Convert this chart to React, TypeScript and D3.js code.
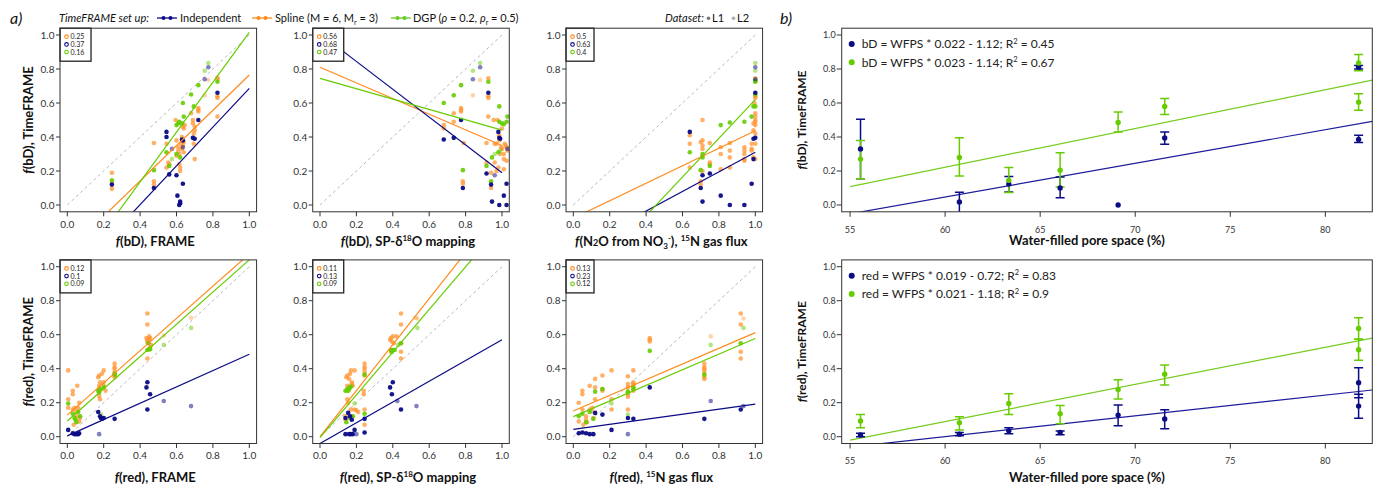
import React from 'react';
import * as d3 from 'd3';

type P = [number, number, number?];
type E = [number, number, number, number];

// ---------- colours ----------
const NAVY = '#0b0b86';
const ORANGE = '#ff8a1c';
const GREEN = '#66cc00';

// ---------- legend (top) ----------
const setupLabels = ['Independent', 'Spline (M = 6, M', 'DGP ('];

// ---------- panel a: bD rows ----------
const bdFrameSpline: P[] = [[0.245,0.19],[0.245,0.13],[0.245,0.095],[0.476,0.365],[0.476,0.14],[0.476,0.12],[0.545,0.36],[0.545,0.22],[0.555,0.25],[0.56,0.24],[0.595,0.5],[0.6,0.38],[0.6,0.29],[0.61,0.34],[0.61,0.32],[0.615,0.3],[0.615,0.24],[0.62,0.22],[0.62,0.2],[0.625,0.36],[0.63,0.4],[0.63,0.33],[0.635,0.35],[0.635,0.46],[0.64,0.31],[0.64,0.45],[0.645,0.47],[0.64,0.37],[0.68,0.54],[0.69,0.5],[0.69,0.48],[0.695,0.42],[0.695,0.36],[0.7,0.27],[0.7,0.44],[0.7,0.46],[0.72,0.57],[0.72,0.55],[0.72,0.56],[0.755,0.645,1],[0.775,0.735,1],[0.825,0.74],[0.825,0.64],[0.825,0.63],[0.825,0.52],[0.825,0.75]];
const bdFrameIndep: P[] = [[0.245,0.12],[0.476,0.1],[0.545,0.43],[0.545,0.4],[0.56,0.18],[0.575,0.33,1],[0.6,0.175],[0.605,0.055],[0.615,0.0],[0.62,0.02],[0.62,0.01],[0.63,0.385],[0.635,0.38],[0.635,0.34,1],[0.635,0.125],[0.69,0.395],[0.7,0.39],[0.72,0.5],[0.755,0.74,1],[0.775,0.81,1],[0.825,0.66]];
const bdFrameDgp: P[] = [[0.245,0.145],[0.476,0.205],[0.545,0.31],[0.56,0.23],[0.575,0.27,1],[0.6,0.3],[0.6,0.47],[0.61,0.48],[0.615,0.49],[0.62,0.28],[0.63,0.48],[0.635,0.6],[0.64,0.52],[0.68,0.65],[0.695,0.58],[0.72,0.705],[0.755,0.79,1],[0.775,0.835,1],[0.825,0.725]];

const bdSpSpline: P[] = [[0.68,0.47],[0.68,0.45],[0.735,0.54],[0.735,0.49],[0.775,0.57],[0.775,0.55],[0.775,0.56],[0.79,0.365],[0.785,0.14],[0.785,0.125],[0.84,0.645,1],[0.88,0.735,1],[0.925,0.745],[0.925,0.64],[0.925,0.63],[0.925,0.52],[0.915,0.25],[0.915,0.365],[0.94,0.1],[0.94,0.19],[0.955,0.5],[0.96,0.25],[0.96,0.36],[0.97,0.36],[0.975,0.5],[0.98,0.22],[0.985,0.41],[0.985,0.38],[0.99,0.3],[0.995,0.34],[1.0,0.45],[1.0,0.33],[1.01,0.27],[1.01,0.3],[1.015,0.36],[1.02,0.35],[1.025,0.34],[1.025,0.26],[1.03,0.32],[1.01,0.21],[0.97,0.2]];
const bdSpIndep: P[] = [[0.68,0.385],[0.735,0.395],[0.775,0.5],[0.785,0.1],[0.84,0.74,1],[0.88,0.81,1],[0.925,0.66],[0.915,0.185],[0.94,0.12],[0.945,0.02],[0.96,0.175,1],[0.98,0.43],[0.985,0.395],[0.985,0.0],[1.01,0.055],[1.025,0.125],[1.025,0.0],[1.03,0.33,1],[0.99,0.39]];
const bdSpDgp: P[] = [[0.68,0.6],[0.735,0.645],[0.775,0.705],[0.785,0.205],[0.84,0.79,1],[0.88,0.835,1],[0.925,0.725],[0.915,0.23],[0.94,0.14],[0.945,0.28],[0.96,0.3,1],[0.98,0.31],[0.985,0.58],[0.985,0.49],[1.0,0.48],[1.01,0.475],[1.025,0.49],[1.03,0.52],[0.99,0.32,1]];

const bdN15Spline: P[] = [[0.64,0.41],[0.64,0.36],[0.64,0.22],[0.7,0.37],[0.7,0.14],[0.7,0.12],[0.71,0.5],[0.71,0.38],[0.71,0.35],[0.71,0.33],[0.71,0.29],[0.71,0.2],[0.75,0.365],[0.75,0.25],[0.75,0.24],[0.81,0.34],[0.81,0.3],[0.81,0.21],[0.86,0.365],[0.86,0.32],[0.86,0.28],[0.86,0.22],[0.94,0.34],[0.94,0.32],[0.94,0.3],[0.94,0.27],[0.94,0.26],[0.98,0.36],[0.98,0.33],[0.98,0.32],[0.99,0.44],[0.99,0.28],[1.0,0.73,1],[1.0,0.745],[1.0,0.64],[1.0,0.63],[1.0,0.54],[1.0,0.52],[1.0,0.5],[1.0,0.49],[1.0,0.47],[1.0,0.42],[1.0,0.36],[1.0,0.27],[0.99,0.48],[0.995,0.6]];
const bdN15Indep: P[] = [[0.64,0.43],[0.7,0.1],[0.71,0.175],[0.71,0.02],[0.75,0.185],[0.81,0.055],[0.86,0.0],[0.94,0.0],[0.98,0.125],[0.99,0.39],[1.0,0.395],[1.0,0.66],[1.0,0.81,1],[1.0,0.74,1],[0.99,0.27]];
const bdN15Dgp: P[] = [[0.64,0.31],[0.7,0.205],[0.71,0.28],[0.71,0.3],[0.75,0.23],[0.81,0.47],[0.86,0.485],[0.94,0.49],[0.98,0.52],[0.99,0.58],[1.0,0.65],[1.0,0.725],[1.0,0.73],[1.0,0.79,1],[1.0,0.835,1],[1.0,0.58]];

// ---------- panel a: red rows ----------
const redFrameSpline: P[] = [[0.005,0.39],[0.005,0.22],[0.005,0.17],[0.03,0.27],[0.03,0.25],[0.03,0.16],[0.035,0.07],[0.04,0.17],[0.05,0.15],[0.05,0.12],[0.055,0.3],[0.06,0.17],[0.065,0.2],[0.065,0.09],[0.07,0.11],[0.17,0.35],[0.175,0.36],[0.175,0.3],[0.175,0.28],[0.175,0.24],[0.18,0.22],[0.18,0.32],[0.19,0.37],[0.2,0.39],[0.2,0.32],[0.2,0.3],[0.21,0.27],[0.26,0.43],[0.26,0.41],[0.26,0.4],[0.26,0.38],[0.26,0.36],[0.26,0.35],[0.44,0.725],[0.44,0.66],[0.435,0.58],[0.44,0.57],[0.44,0.56],[0.445,0.55],[0.44,0.46],[0.45,0.59],[0.45,0.57],[0.455,0.58],[0.46,0.54],[0.455,0.525],[0.53,0.595,1],[0.68,0.7,1]];
const redFrameIndep: P[] = [[0.005,0.04],[0.03,0.02],[0.04,0.015],[0.05,0.015],[0.06,0.015],[0.065,0.02],[0.17,0.145],[0.175,0.015,1],[0.18,0.12],[0.185,0.11],[0.19,0.105],[0.2,0.11],[0.26,0.105],[0.435,0.29],[0.44,0.32],[0.44,0.16],[0.455,0.25],[0.53,0.21,1],[0.68,0.18,1]];
const redFrameDgp: P[] = [[0.005,0.195],[0.03,0.135],[0.04,0.11],[0.045,0.1],[0.05,0.085],[0.06,0.145],[0.07,0.12],[0.17,0.27],[0.175,0.26],[0.18,0.28],[0.185,0.13,1],[0.2,0.29],[0.26,0.37],[0.26,0.365],[0.44,0.51],[0.445,0.55],[0.45,0.515],[0.455,0.515],[0.53,0.54,1],[0.68,0.64,1]];

const redSpSpline: P[] = [[0.14,0.12],[0.14,0.1],[0.145,0.35],[0.15,0.36],[0.15,0.3],[0.15,0.27],[0.15,0.22],[0.155,0.2],[0.16,0.34],[0.16,0.29],[0.165,0.37],[0.17,0.39],[0.175,0.32],[0.175,0.31],[0.17,0.16],[0.18,0.3],[0.18,0.12],[0.19,0.39],[0.19,0.16],[0.2,0.155],[0.21,0.145],[0.245,0.43],[0.245,0.41],[0.245,0.4],[0.245,0.38],[0.245,0.36],[0.24,0.27],[0.24,0.25],[0.245,0.16],[0.245,0.07],[0.385,0.57],[0.39,0.58],[0.39,0.5],[0.395,0.56],[0.4,0.59],[0.405,0.55],[0.42,0.59],[0.445,0.725],[0.445,0.66],[0.445,0.55],[0.445,0.5],[0.445,0.46],[0.525,0.7,1],[0.535,0.695,1]];
const redSpIndep: P[] = [[0.14,0.11],[0.14,0.015],[0.155,0.14],[0.16,0.015],[0.165,0.12],[0.17,0.015],[0.175,0.1],[0.18,0.015],[0.19,0.04],[0.2,0.015,1],[0.245,0.105],[0.245,0.025],[0.385,0.29],[0.395,0.25],[0.4,0.32],[0.425,0.21,1],[0.445,0.16],[0.53,0.18,1]];
const redSpDgp: P[] = [[0.14,0.27],[0.145,0.085],[0.15,0.28],[0.155,0.27],[0.16,0.28],[0.165,0.29],[0.17,0.295],[0.165,0.11],[0.18,0.12],[0.19,0.195,1],[0.245,0.365],[0.245,0.135],[0.39,0.51],[0.395,0.5],[0.4,0.51],[0.41,0.51],[0.43,0.54,1],[0.445,0.55],[0.535,0.64,1]];

const redN15Spline: P[] = [[0.03,0.2],[0.03,0.09],[0.05,0.27],[0.05,0.25],[0.05,0.16],[0.055,0.07],[0.07,0.12],[0.07,0.1],[0.075,0.085],[0.09,0.3],[0.09,0.16],[0.1,0.15],[0.105,0.17],[0.11,0.11],[0.12,0.34],[0.12,0.29],[0.12,0.22],[0.16,0.36],[0.16,0.28],[0.16,0.27],[0.21,0.39],[0.21,0.22],[0.21,0.16],[0.3,0.355],[0.3,0.31],[0.3,0.29],[0.3,0.25],[0.3,0.235],[0.3,0.16],[0.33,0.39],[0.33,0.32],[0.33,0.31],[0.33,0.3],[0.33,0.27],[0.42,0.58],[0.42,0.57],[0.42,0.56],[0.72,0.43],[0.72,0.41],[0.72,0.4],[0.72,0.39],[0.72,0.37],[0.72,0.35],[0.72,0.34],[0.755,0.59,1],[0.92,0.725],[0.92,0.66],[0.92,0.5],[0.92,0.46],[0.935,0.695,1]];
const redN15Indep: P[] = [[0.03,0.02],[0.05,0.025],[0.07,0.02],[0.09,0.015],[0.11,0.015],[0.12,0.14],[0.16,0.13],[0.21,0.04],[0.3,0.11],[0.3,0.015,1],[0.33,0.105],[0.42,0.29],[0.72,0.105],[0.755,0.21,1],[0.92,0.16],[0.935,0.18,1]];
const redN15Dgp: P[] = [[0.03,0.12],[0.05,0.135],[0.07,0.085],[0.09,0.145],[0.11,0.105],[0.12,0.265],[0.16,0.28],[0.21,0.195,1],[0.3,0.265],[0.3,0.26],[0.3,0.13,1],[0.33,0.29],[0.33,0.28],[0.42,0.505],[0.72,0.365],[0.755,0.54,1],[0.92,0.55],[0.935,0.64,1]];

// fitted lines [intercept, slope] : spline, independent, dgp
const fitBdFrame = [[-0.274, 1.039], [-0.454, 1.14], [-0.451, 1.467]];
const fitBdSp = [[0.81, -0.46], [1.008, -0.818], [0.745, -0.305]];
const fitBdN15 = [[-0.078, 0.515], [-0.266, 0.576], [-0.518, 1.138]];
const fitRedFrame = [[0.127, 0.948], [0.005, 0.48], [0.092, 0.948]];
const fitRedSp = [[0.0, 1.354], [-0.04, 0.61], [-0.006, 1.257]];
const fitRedN15 = [[0.151, 0.461], [0.043, 0.149], [0.118, 0.46]];

// legend numbers : spline, independent, dgp
const legBdFrame = ['0.25', '0.37', '0.16'];
const legBdSp = ['0.56', '0.68', '0.47'];
const legBdN15 = ['0.5', '0.63', '0.4'];
const legRedFrame = ['0.12', '0.1', '0.09'];
const legRedSp = ['0.11', '0.13', '0.09'];
const legRedN15 = ['0.13', '0.23', '0.12'];

const unitTicks = [0, 0.2, 0.4, 0.6, 0.8, 1.0];

// ---------- panel b ----------
const wfpsTicks = [55, 60, 65, 70, 75, 80];
const wfpsFitRange = [55, 82.47];
// [wfps, value, lower, upper]
const bdIndepB: E[] = [[55.55,0.33,0.155,0.505],[60.75,0.018,-0.06,0.075],[63.35,0.123,0.077,0.167],[66.05,0.10,0.043,0.165],[69.1,0.0,0.0,0.0],[71.55,0.394,0.357,0.43],[81.75,0.385,0.367,0.41],[81.75,0.81,0.80,0.82]];
const bdDgpB: E[] = [[55.55,0.27,0.155,0.38],[60.75,0.28,0.17,0.395],[63.35,0.145,0.073,0.22],[66.05,0.205,0.106,0.308],[69.1,0.485,0.43,0.547],[71.55,0.58,0.533,0.627],[81.75,0.605,0.557,0.655],[81.75,0.835,0.79,0.885]];
const redIndepB: E[] = [[55.55,0.01,0.0,0.02],[60.75,0.015,0.005,0.024],[63.35,0.035,0.018,0.053],[66.05,0.025,0.012,0.033],[69.1,0.127,0.065,0.186],[71.55,0.104,0.047,0.159],[81.75,0.318,0.229,0.406],[81.75,0.18,0.108,0.25]];
const redDgpB: E[] = [[55.55,0.093,0.053,0.131],[60.75,0.082,0.039,0.118],[63.35,0.195,0.131,0.253],[66.05,0.135,0.076,0.184],[69.1,0.278,0.222,0.335],[71.55,0.367,0.304,0.422],[81.75,0.637,0.573,0.7],[81.75,0.512,0.449,0.573]];
// [slope, intercept]
const bdLinesB = [[0.0198, -1.141], [0.0228, -1.146]];
const redLinesB = [[0.01222, -0.733], [0.02184, -1.221]];
const bdLegB = ['bD = WFPS * 0.022 - 1.12; R', ' = 0.45', 'bD = WFPS * 0.023 - 1.14; R', ' = 0.67'];
const redLegB = ['red = WFPS * 0.019 - 0.72; R', ' = 0.83', 'red = WFPS * 0.021 - 1.18; R', ' = 0.9'];

// ---------- layout ----------
const W = 1373, H = 486;
const FONT = 'Lato, "Open Sans", sans-serif';
const colX0 = [67.3, 320, 573.3];
const rowY0 = [205, 436.7];
const UX = 182, UY = 170;
const TXT = '#333';

const fmt = d3.format('.1f');

function PanelA(props: any) {
  const { col, row, spline, indep, dgp, fits, leg, id, xTitle, yTitle } = props;
  const x0 = colX0[col], y0 = rowY0[row];
  const x = d3.scaleLinear().domain([0, 1]).range([x0, x0 + UX]);
  const y = d3.scaleLinear().domain([0, 1]).range([y0, y0 - UY]);
  const L = x(-0.04), R = x(1.04), T = y(1.04), B = y(-0.04);
  const line = d3.line<number[]>().x(d => x(d[0])).y(d => y(d[1]));
  const fitColors = [ORANGE, NAVY, GREEN];
  const series: [P[], string, number][] = [[spline, '#ff9633', 0.75], [dgp, GREEN, 0.9], [indep, NAVY, 0.95]];
  const titleY = row === 0 ? y0 + 41 : y0 + 45.5;
  return (
    <g>
      <defs>
        <clipPath id={id}><rect x={L} y={T} width={R - L} height={B - T} /></clipPath>
      </defs>
      <g clipPath={`url(#${id})`}>
        <path d={line([[0, 0], [1, 1]]) || ''} stroke="#b8b8b8" strokeDasharray="3,3" fill="none" strokeWidth={1} />
        {series.map(([pts, c, op], si) => (
          <g key={si}>
            {pts.map((p, i) => (
              <circle key={i} cx={x(p[0])} cy={y(p[1])} r={2.3} fill={c} opacity={p[2] ? op * 0.55 : op} />
            ))}
          </g>
        ))}
        {fits.map((f: number[], i: number) => (
          <path key={i} d={line([[0, f[0]], [1, f[0] + f[1]]]) || ''} stroke={fitColors[i]} strokeWidth={1.2} fill="none" />
        ))}
      </g>
      {/* legend box */}
      <rect x={L} y={T} width={col === 2 ? 28 : 31} height={33} fill="white" stroke="#222" strokeWidth={1.3} />
      {leg.map((t: string, i: number) => (
        <g key={i}>
          <circle cx={L + 6.5} cy={T + 8.5 + i * 7.7} r={1.8} fill="none" stroke={fitColors[i]} strokeWidth={1.1} />
          <text x={L + 10.5} y={T + 11 + i * 7.7} fontSize={7} fill="#222" fontFamily={FONT}>{t}</text>
        </g>
      ))}
      <rect x={L} y={T} width={R - L} height={B - T} fill="none" stroke="#333" strokeWidth={1} />
      {unitTicks.map(t => (
        <g key={'x' + t}>
          <line x1={x(t)} x2={x(t)} y1={B} y2={B + 4.5} stroke="#333" />
          <text x={x(t)} y={y0 + 22.6} fontSize={10} textAnchor="middle" fill={TXT} fontFamily={FONT}>{fmt(t)}</text>
        </g>
      ))}
      {unitTicks.map(t => (
        <g key={'y' + t}>
          <line x1={L - 4} x2={L} y1={y(t)} y2={y(t)} stroke="#333" />
          <text x={L - 5.5} y={y(t) + 3.5} fontSize={10} textAnchor="end" fill={TXT} fontFamily={FONT}>{fmt(t)}</text>
        </g>
      ))}
      <text x={(L + R) / 2 - 3} y={titleY} fontSize={13} fontWeight="bold" textAnchor="middle" fill="#111" fontFamily={FONT}>{xTitle}</text>
      {yTitle && (
        <text transform={`translate(32.5,${(T + B) / 2}) rotate(-90)`} fontSize={13} fontWeight="bold" textAnchor="middle" fill="#111" fontFamily={FONT}>{yTitle}</text>
      )}
    </g>
  );
}

function PanelB(props: any) {
  const { row, indep, dgp, lines, leg, id, yTitle } = props;
  const y0 = rowY0[row];
  const x = d3.scaleLinear().domain([54.56, 82.47]).range([841.7, 1372.3]);
  const y = d3.scaleLinear().domain([0, 1]).range([y0, y0 - UY]);
  const L = x.range()[0], R = x.range()[1], T = y(1.04), B = y(-0.04);
  const line = d3.line<number[]>().x(d => x(d[0])).y(d => y(d[1]));
  const cols = [NAVY, GREEN];
  const sets: E[][] = [indep, dgp];
  return (
    <g>
      <defs>
        <clipPath id={id}><rect x={L} y={T} width={R - L} height={B - T} /></clipPath>
      </defs>
      <g clipPath={`url(#${id})`}>
        {lines.map((l: number[], i: number) => (
          <path key={i} d={line(wfpsFitRange.map(v => [v, l[1] + l[0] * v])) || ''} stroke={i === 0 ? '#1c1c9a' : '#77cc22'} strokeWidth={1.2} fill="none" />
        ))}
        {sets.map((s, si) => (
          <g key={si} stroke={cols[si]} strokeWidth={1.5}>
            {s.filter(e => e[3] - e[2] > 0.012).map((e, i) => (
              <g key={i}>
                <line x1={x(e[0])} x2={x(e[0])} y1={y(e[2])} y2={y(e[3])} />
                <line x1={x(e[0]) - 4.5} x2={x(e[0]) + 4.5} y1={y(e[2])} y2={y(e[2])} />
                <line x1={x(e[0]) - 4.5} x2={x(e[0]) + 4.5} y1={y(e[3])} y2={y(e[3])} />
              </g>
            ))}
          </g>
        ))}
        {sets.map((s, si) => (
          <g key={'p' + si}>
            {s.map((e, i) => <circle key={i} cx={x(e[0])} cy={y(e[1])} r={2.7} fill={cols[si]} />)}
          </g>
        ))}
      </g>
      <rect x={L} y={T} width={R - L} height={B - T} fill="none" stroke="#333" strokeWidth={1} />
      {wfpsTicks.map(t => (
        <g key={'x' + t}>
          <line x1={x(t)} x2={x(t)} y1={B} y2={B + 5} stroke="#333" />
          <text x={x(t)} y={y0 + 27.5} fontSize={9} textAnchor="middle" fill={TXT} fontFamily={FONT}>{t}</text>
        </g>
      ))}
      {unitTicks.map(t => (
        <g key={'y' + t}>
          <line x1={L - 5} x2={L} y1={y(t)} y2={y(t)} stroke="#333" />
          <text x={L - 6} y={y(t) + 3.2} fontSize={9} textAnchor="end" fill={TXT} fontFamily={FONT}>{fmt(t)}</text>
        </g>
      ))}
      {[0, 1].map(i => (
        <g key={'l' + i}>
          <circle cx={L + 10} cy={T + 15.8 + i * 18.3} r={3} fill={cols[i]} />
          <text x={L + 20} y={T + 20 + i * 18.3} fontSize={12} fill="#222" fontFamily={FONT}>
            {leg[i * 2]}<tspan dy={-4.5} fontSize={7.5}>2</tspan><tspan dy={4.5}>{leg[i * 2 + 1]}</tspan>
          </text>
        </g>
      ))}
      <text x={1087} y={row === 0 ? y0 + 40 : y0 + 45} fontSize={13} fontWeight="bold" textAnchor="middle" fill="#111" fontFamily={FONT}>Water-filled pore space (%)</text>
      <text transform={`translate(806,${(T + B) / 2}) rotate(-90)`} fontSize={12} fontWeight="bold" textAnchor="middle" fill="#111" fontFamily={FONT}>{yTitle}</text>
    </g>
  );
}

const It = (s: string) => <tspan fontStyle="italic">{s}</tspan>;

export default function App() {
  const legItems: [number, string][] = [[157, NAVY], [252, ORANGE], [391, '#66cc22']];
  return (
    <svg width={W} height={H} style={{ position: 'absolute', left: 0, top: 0, background: 'white' }} fontFamily={FONT}>
      <rect width={W} height={H} fill="white" />
      <text x={10} y={24} fontSize={16} fontStyle="italic" fill="#111">a)</text>
      <text x={780} y={24} fontSize={16} fontStyle="italic" fill="#111">b)</text>
      <text x={59} y={22} fontSize={11} fontStyle="italic" fill="#111">TimeFRAME set up:</text>
      {legItems.map(([lx, c], i) => (
        <g key={i}>
          <line x1={lx} x2={lx + 20} y1={18} y2={18} stroke={c} strokeWidth={1.3} />
          <circle cx={lx + 6.5} cy={18} r={2} fill={c} />
          <circle cx={lx + 13.5} cy={18} r={2} fill={c} />
        </g>
      ))}
      <text x={180} y={22} fontSize={11} fill="#111">{setupLabels[0]}</text>
      <text x={275} y={22} fontSize={11} fill="#111">{setupLabels[1]}<tspan dy={2.5} fontSize={7}>r</tspan><tspan dy={-2.5}> = 3)</tspan></text>
      <text x={413} y={22} fontSize={11} fill="#111">{setupLabels[2]}{It('ρ')} = 0.2, {It('ρ')}<tspan dy={2.5} fontSize={7}>r</tspan><tspan dy={-2.5}> = 0.5)</tspan></text>
      <text x={665} y={22} fontSize={11} fontStyle="italic" fill="#111">Dataset:</text>
      <circle cx={708.5} cy={18.3} r={1.8} fill="#777" />
      <text x={712} y={22} fontSize={11} fill="#111">L1</text>
      <circle cx={733.5} cy={18.3} r={1.8} fill="#aaa" />
      <text x={737} y={22} fontSize={11} fill="#111">L2</text>

      <PanelA id="c1" col={0} row={0} spline={bdFrameSpline} indep={bdFrameIndep} dgp={bdFrameDgp} fits={fitBdFrame} leg={legBdFrame}
        xTitle={<>{It('f')}(bD), FRAME</>} yTitle={<>{It('f')}(bD), TimeFRAME</>} />
      <PanelA id="c2" col={1} row={0} spline={bdSpSpline} indep={bdSpIndep} dgp={bdSpDgp} fits={fitBdSp} leg={legBdSp}
        xTitle={<>{It('f')}(bD), SP-δ<tspan dy={-5} fontSize={8}>18</tspan><tspan dy={5}>O mapping</tspan></>} />
      <PanelA id="c3" col={2} row={0} spline={bdN15Spline} indep={bdN15Indep} dgp={bdN15Dgp} fits={fitBdN15} leg={legBdN15}
        xTitle={<>{It('f')}(N<tspan fontSize={9}>2</tspan>O from NO<tspan dy={3} fontSize={8}>3</tspan><tspan dy={-8} fontSize={8}>-</tspan><tspan dy={5}>), </tspan><tspan dy={-5} fontSize={8}>15</tspan><tspan dy={5}>N gas flux</tspan></>} />
      <PanelA id="c4" col={0} row={1} spline={redFrameSpline} indep={redFrameIndep} dgp={redFrameDgp} fits={fitRedFrame} leg={legRedFrame}
        xTitle={<>{It('f')}(red), FRAME</>} yTitle={<>{It('f')}(red), TimeFRAME</>} />
      <PanelA id="c5" col={1} row={1} spline={redSpSpline} indep={redSpIndep} dgp={redSpDgp} fits={fitRedSp} leg={legRedSp}
        xTitle={<>{It('f')}(red), SP-δ<tspan dy={-5} fontSize={8}>18</tspan><tspan dy={5}>O mapping</tspan></>} />
      <PanelA id="c6" col={2} row={1} spline={redN15Spline} indep={redN15Indep} dgp={redN15Dgp} fits={fitRedN15} leg={legRedN15}
        xTitle={<>{It('f')}(red), <tspan dy={-5} fontSize={8}>15</tspan><tspan dy={5}>N gas flux</tspan></>} />

      <PanelB id="b1" row={0} indep={bdIndepB} dgp={bdDgpB} lines={bdLinesB} leg={bdLegB} yTitle={<>{It('f')}(bD), TimeFRAME</>} />
      <PanelB id="b2" row={1} indep={redIndepB} dgp={redDgpB} lines={redLinesB} leg={redLegB} yTitle={<>{It('f')}(red), TimeFRAME</>} />
    </svg>
  );
}
